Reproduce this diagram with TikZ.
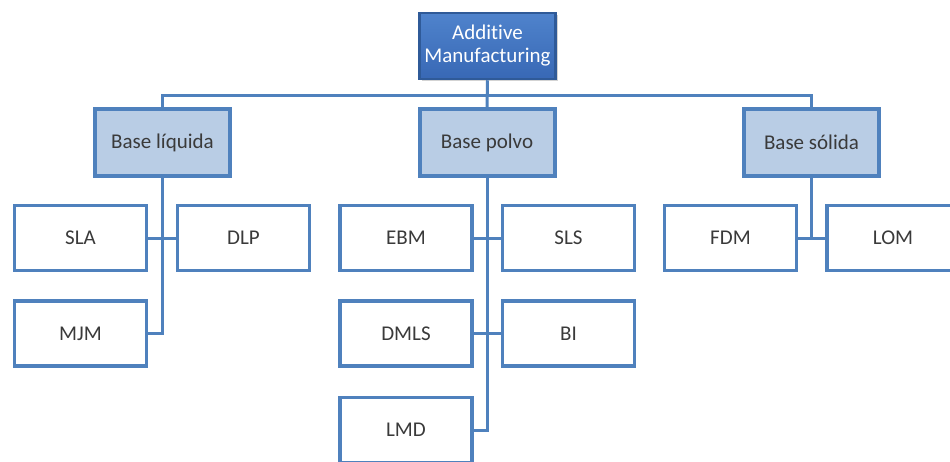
\documentclass[tikz,border=0pt]{standalone}
\usepackage{fontspec}
\setmainfont[Ligatures={NoCommon}]{Carlito}
\usetikzlibrary{shadows}
\definecolor{edgeblue}{HTML}{4F81BD}
\definecolor{topedge}{HTML}{2F5A98}
\definecolor{topA}{HTML}{4F83CC}
\definecolor{topB}{HTML}{3868B5}
\definecolor{midfill}{HTML}{B9CDE5}
\definecolor{txtgray}{HTML}{3A3A3A}
\tikzset{
  basebox/.style={rectangle, inner sep=0pt, align=center, font=\fontsize{21}{23}\selectfont},
  topbox/.style={basebox, draw=topedge, line width=2.5pt, top color=topA, bottom color=topB,
     text=white, minimum width=136pt, minimum height=66pt,
     drop shadow={opacity=0.35, shadow xshift=2pt, shadow yshift=-2pt}},
  catbox/.style={basebox, draw=edgeblue, line width=4pt, fill=midfill, text=txtgray,
     minimum width=135pt, minimum height=67pt,
     drop shadow={opacity=0.3, shadow xshift=2pt, shadow yshift=-2pt}},
  leafbox/.style={basebox, draw=edgeblue, line width=3.5pt, fill=white, text=txtgray,
     minimum width=132pt, minimum height=65pt},
  conn/.style={draw=edgeblue, line width=3pt}
}
\begin{document}
\begin{tikzpicture}[x=1pt,y=-1pt]
\useasboundingbox (0,0) rectangle (950,461);
\clip (0,0) rectangle (950,461);
% top
\node[topbox] (top) at (487.5,46) {Additive\\Manufacturing};
% categories
\node[catbox] (bl) at (162.5,142.5) {Base líquida};
\node[catbox] (bp) at (487,142.5) {Base polvo};
\node[catbox] (bs) at (811.5,142.5) {Base sólida};
% leaves left
\node[leafbox] (sla) at (80.5,238) {SLA};
\node[leafbox] (dlp) at (243.5,238) {DLP};
\node[leafbox] (mjm) at (80.5,333.5) {MJM};
% leaves middle
\node[leafbox] (ebm) at (406,238) {EBM};
\node[leafbox] (sls) at (568.5,238) {SLS};
\node[leafbox] (dmls) at (406,333.5) {DMLS};
\node[leafbox] (bi) at (568.5,333.5) {BI};
\node[leafbox] (lmd) at (406,430) {LMD};
% leaves right
\node[leafbox] (fdm) at (730.5,238) {FDM};
\node[leafbox] (lom) at (893,238) {LOM};
% connectors
\coordinate (bus) at (487.5,95);
\draw[conn] (bl.north) |- (bus) -| (bs.north);
\draw[conn] (top.south) -- (bp.north);
\draw[conn] (bl.south) |- (mjm.east);
\draw[conn] (sla.east) -- (dlp.west);
\draw[conn] (bp.south) |- (lmd.east);
\draw[conn] (ebm.east) -- (sls.west);
\draw[conn] (dmls.east) -- (bi.west);
\draw[conn] (bs.south) -- (bs.south |- fdm.east);
\draw[conn] (fdm.east) -- (lom.west);
\end{tikzpicture}
\end{document}
